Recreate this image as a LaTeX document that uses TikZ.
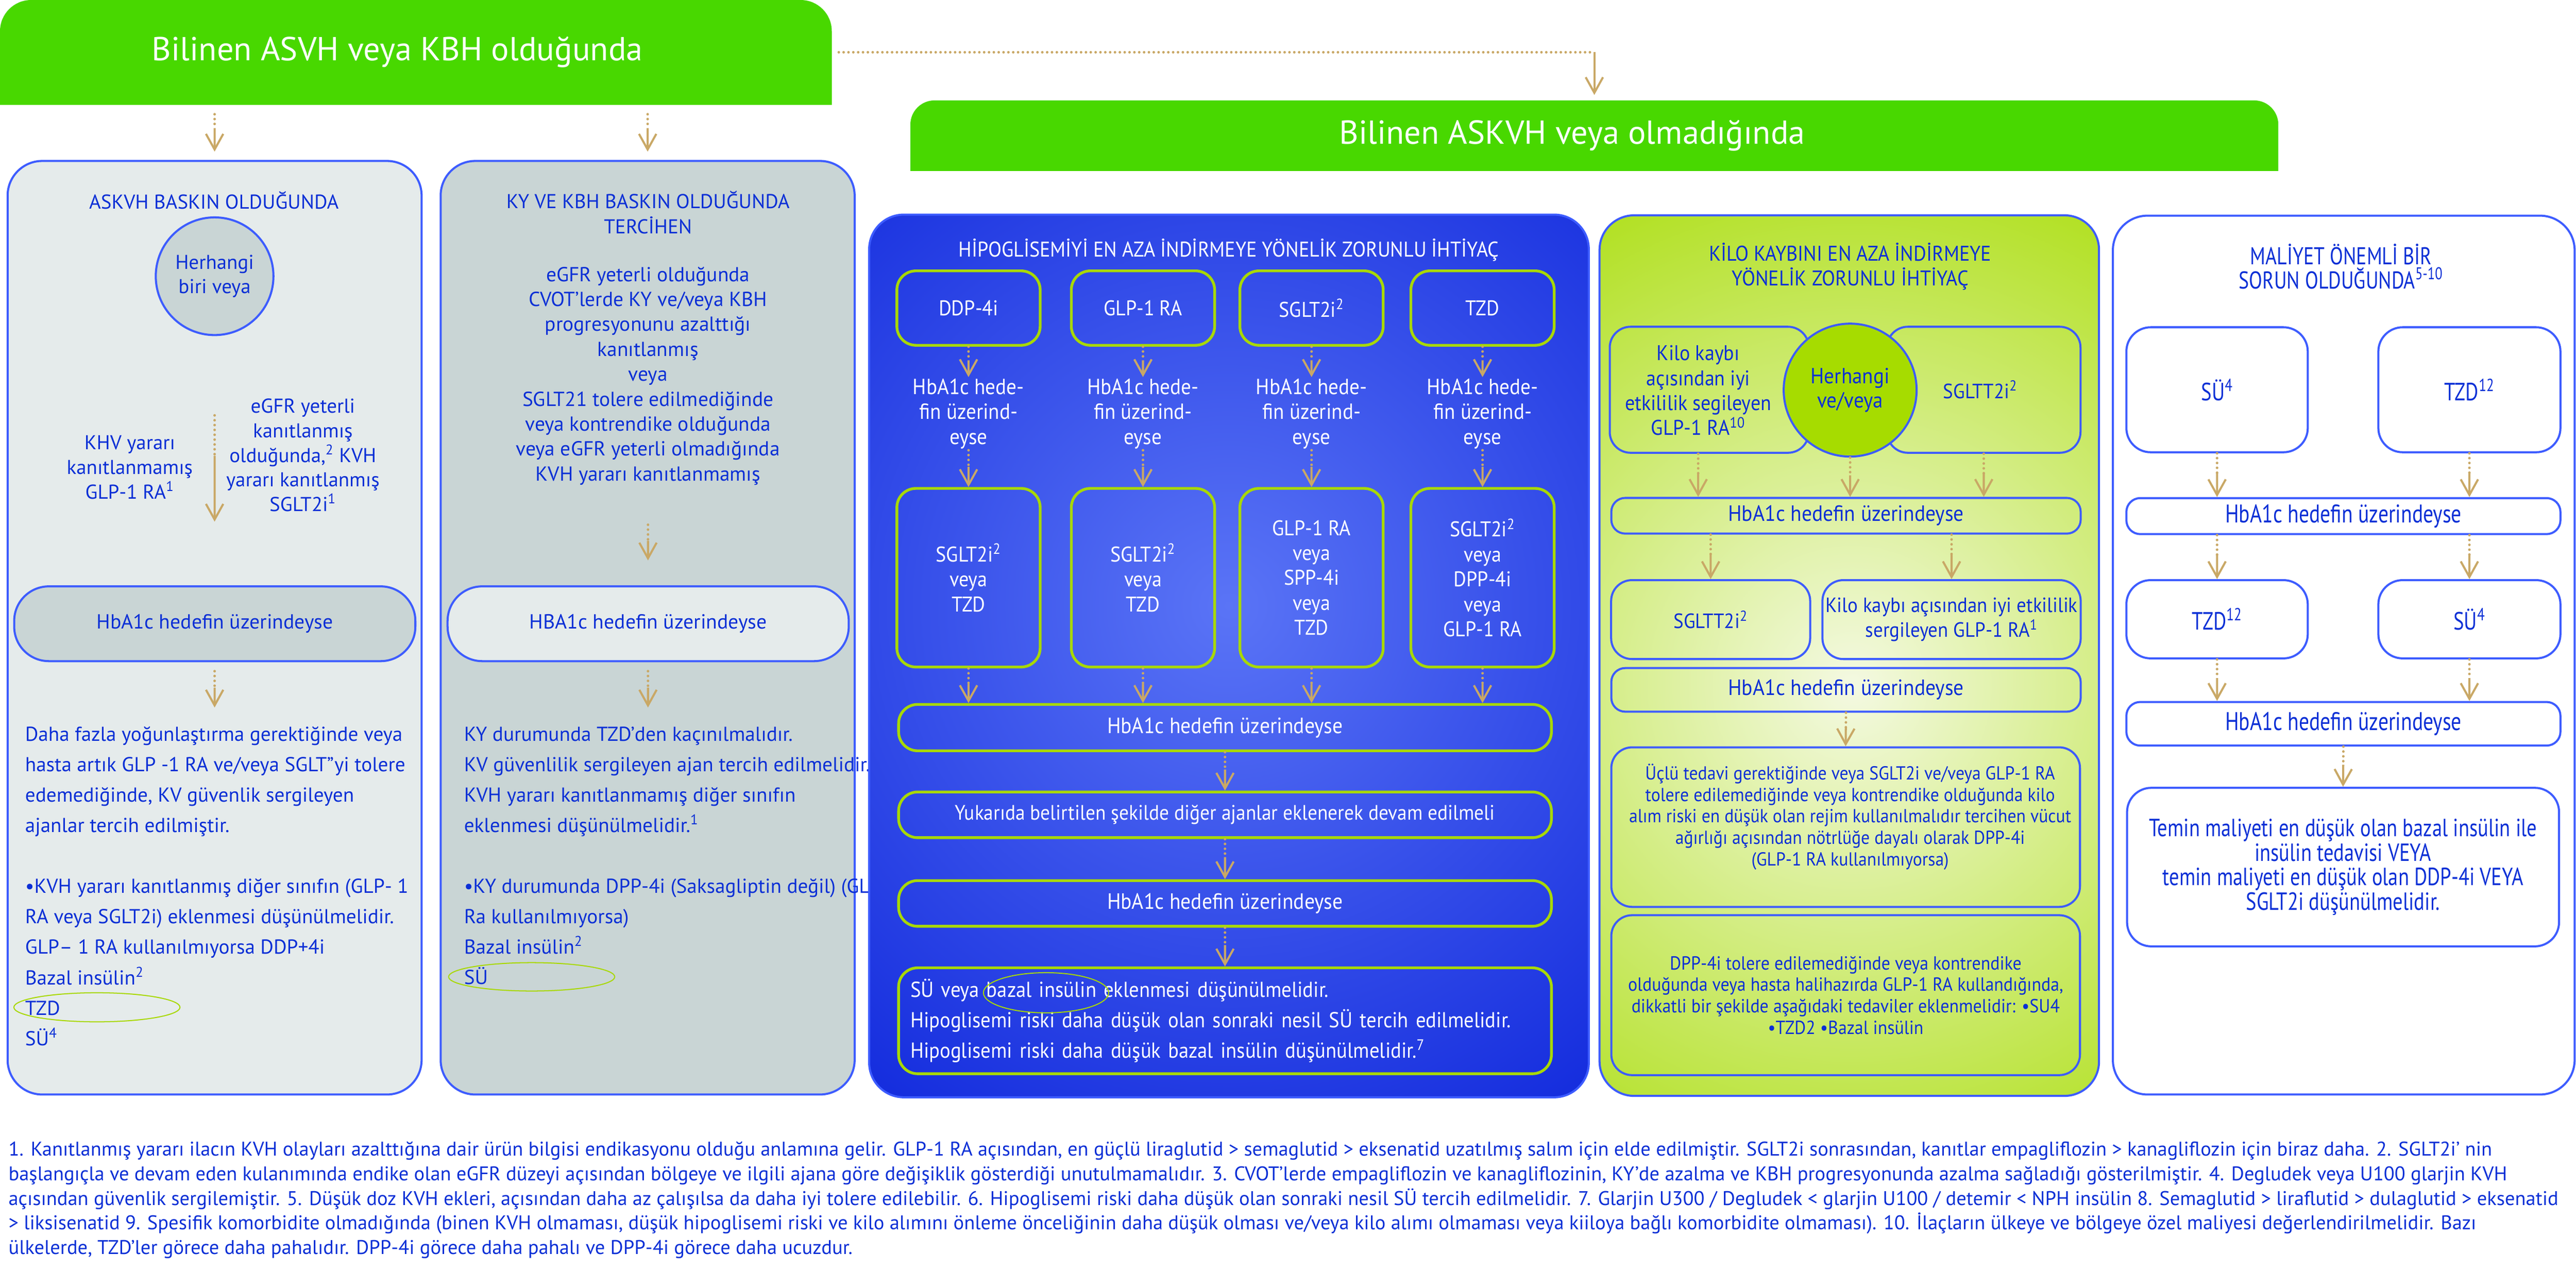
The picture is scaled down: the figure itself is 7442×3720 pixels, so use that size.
\documentclass[tikz,border=0pt]{standalone}
\usepackage{fontspec}
\setmainfont{PT Sans}
\newfontfamily\cnd[FakeStretch=0.92]{PT Sans}
\newfontfamily\cnw[FakeStretch=0.8]{PT Sans}
\usetikzlibrary{arrows.meta,calc}

\definecolor{hgreen}{HTML}{48D800}
\definecolor{bord}{HTML}{3D5CFF}
\definecolor{btext}{HTML}{0B2FD6}
\definecolor{gfa}{HTML}{E5EBEB}
\definecolor{gfb}{HTML}{C9D5D5}
\definecolor{tan}{HTML}{C9A866}
\definecolor{lime}{HTML}{A8D800}
\definecolor{kgreen}{HTML}{A6DC00}
\definecolor{bluee}{HTML}{0A22DA}
\definecolor{bluec}{HTML}{5A74F6}
\definecolor{gcen}{HTML}{F4F9E2}

% dotted start, solid end with tip
\newcommand{\conn}[3][0.45]{%
  \draw[dots] (#2) -- ($(#2)!#1!(#3)$);
  \draw[arr] ($(#2)!#1!(#3)$) -- (#3);}

\begin{document}
\begin{tikzpicture}[x=0.1mm,y=-0.1mm]
	\tikzstyle{every node}=[inner sep=0pt,align=center]
	\tikzstyle{pan}=[draw=bord,line width=0.6mm,rounded corners=10mm]
	\tikzstyle{hdr}=[text=white,font=\fontsize{27.3}{32}\selectfont]
	\tikzstyle{gbox}=[draw=bord,line width=0.6mm,rounded corners=10mm,text=btext,font=\fontsize{16.8}{20}\selectfont]
	\tikzstyle{lbox}=[draw=lime,line width=0.8mm,rounded corners=5.5mm,text=white,font=\cnd\fontsize{17.5}{20.5}\selectfont]
	\tikzstyle{kbox}=[draw=bord,line width=0.6mm,rounded corners=6mm,text=btext,font=\cnd\fontsize{17}{20.5}\selectfont]
	\tikzstyle{wbox}=[draw=bord,line width=0.6mm,fill=white,rounded corners=7mm,text=btext,font=\cnw\fontsize{20.5}{20}\selectfont]
	\tikzstyle{btxt}=[text=btext,font=\fontsize{16.6}{25}\selectfont]
	\tikzstyle{stxt}=[text=btext,font=\fontsize{16.5}{20.2}\selectfont]
	\tikzstyle{wtxt}=[text=white,font=\cnd\fontsize{18}{20.5}\selectfont]
	\tikzstyle{ktxt}=[text=btext,font=\cnd\fontsize{17.5}{20.5}\selectfont]
	\tikzstyle{dots}=[draw=tan,line width=0.75mm,line cap=round,dash pattern=on 0mm off 1.4mm]
	\tikzstyle{arr}=[draw=tan,line width=0.6mm,-{Straight Barb[length=4.5mm,width=5mm]}]
	\tikzstyle{oval}=[draw=lime,line width=0.3mm]

	\useasboundingbox (0,0) rectangle (7442,3720);

	% headers
	\fill[hgreen] (0,303) [rounded corners=9mm] -- (0,0) -- (2403,0) [sharp corners] -- (2403,303) -- cycle;
	\node[hdr,minimum width=240.3mm,minimum height=30.3mm] (h1) at (1201,151) {Bilinen ASVH veya KBH olduğunda\hspace*{10.6mm}};
	\fill[hgreen] (2630,494) [rounded corners=7mm] -- (2630,290) -- (6582,290) [sharp corners] -- (6582,494) -- cycle;
	\node[hdr,minimum width=395.2mm,minimum height=20.4mm] (h2) at (4606,392) {Bilinen ASKVH veya olmadığında\hspace*{12.8mm}};
	\coordinate (h12) at (h1.east -| h2.north);
	\draw[dots] ([xshift=2mm]h1.east) -- (h12);
	\draw[arr] (h12) -- ([yshift=1.5mm]h2.north);

	% panel 1
	\node[pan,fill=gfa,minimum width=119.6mm,minimum height=269.7mm] (p1) at (620,1813.5) {};
	\coordinate (h1a) at (620,330); \coordinate (h1b) at (620,438);
	\conn[0.37]{h1a}{h1b}
	\node[text=btext,font=\fontsize{16.5}{20}\selectfont] (p1t) at (618,578) {ASKVH BASKIN OLDUĞUNDA};
	\node[circle,draw=bord,line width=0.6mm,fill=gfb,minimum size=34mm,stxt] (c1) at (620,798) {Herhangi\\biri veya};
	\node[stxt] (p1l) at (375,1350) {KHV yararı\\kanıtlanmamış\\GLP-1 RA\textsuperscript{1}};
	\node[stxt] (p1r) at (875,1315) {eGFR yeterli\\kanıtlanmış\\olduğunda,\textsuperscript{2} KVH\\yararı kanıtlanmış\\SGLT2i\textsuperscript{1}};
	\coordinate (p1a) at (620,1200); \coordinate (p1b) at (620,1507);
	\conn[0.38]{p1a}{p1b}
	\node[gbox,fill=gfb,minimum width=115.9mm,minimum height=21.6mm] (b1) at (620.5,1802) {HbA1c hedefin üzerindeyse};
	\coordinate (p1c) at (620,1939); \coordinate (p1d) at (620,2044);
	\conn{p1c}{p1d}
	\node[btxt,anchor=west,align=left] (p1x) at (72,2560) {Daha fazla yoğunlaştırma gerektiğinde  veya\\hasta artık GLP -1 RA ve/veya SGLT”yi  tolere\\edemediğinde, KV güvenlik  sergileyen\\ajanlar tercih edilmiştir.\\[8.8mm]•KVH yararı kanıtlanmış diğer sınıfın  (GLP- 1\\RA veya SGLT2i) eklenmesi  düşünülmelidir.\\GLP– 1 RA kullanılmıyorsa DDP+4i\\Bazal insülin\textsuperscript{2}\\TZD\\SÜ\textsuperscript{4}};
	\draw[oval] (280,2910) ellipse (24mm and 4.2mm);

	% panel 2
	\node[pan,fill=gfb,minimum width=119.6mm,minimum height=269.7mm] (p2) at (1871,1813.5) {};
	\coordinate (h1c) at (1871,330); \coordinate (h1d) at (1871,438);
	\conn[0.37]{h1c}{h1d}
	\node[text=btext,font=\fontsize{16.5}{20.8}\selectfont] (p2t) at (1872,614) {KY VE KBH BASKIN OLDUĞUNDA\\TERCİHEN};
	\node[text=btext,font=\fontsize{16.7}{20.5}\selectfont] (p2m) at (1872,1086) {eGFR yeterli olduğunda\\CVOT’lerde KY ve/veya KBH\\progresyonunu azalttığı\\kanıtlanmış\\veya\\SGLT21 tolere edilmediğinde\\veya kontrendike olduğunda\\veya eGFR yeterli  olmadığında\\KVH yararı  kanıtlanmamış};
	\coordinate (p2a) at (1872,1516); \coordinate (p2b) at (1872,1619);
	\conn{p2a}{p2b}
	\node[gbox,fill=gfa,minimum width=115.9mm,minimum height=21.6mm] (b2) at (1872.5,1802) {HBA1c hedefin üzerindeyse};
	\coordinate (p2c) at (1872,1939); \coordinate (p2d) at (1872,2044);
	\conn{p2c}{p2d}
	\node[btxt,anchor=west,align=left] (p2x) at (1340,2472) {KY durumunda TZD’den kaçınılmalıdır.\\KV güvenlilik sergileyen ajan tercih  edilmelidir.\\KVH yararı kanıtlanmamış diğer sınıfın\\eklenmesi düşünülmelidir.\textsuperscript{1}\\[8.8mm]•KY durumunda DPP-4i (Saksagliptin değil) (GLP- 1\\Ra kullanılmıyorsa)\\Bazal insülin\textsuperscript{2}\\SÜ};
	\draw[oval] (1536,2822) ellipse (24mm and 4.1mm);

	% blue panel
	\begin{scope}
		\clip[rounded corners=10mm] (2511,620) rectangle (4590,3170);
		\fill[bluee] (2511,620) rectangle (4590,3170);
		\shade[inner color=bluec,outer color=bluee] (3550,1750) circle (200mm);
	\end{scope}
	\draw[pan] (2511,620) rectangle (4590,3170);
	\node[wtxt,font=\cnd\fontsize{17.5}{20}\selectfont] (bt) at (3550,722) {HİPOGLİSEMİYİ EN AZA İNDİRMEYE YÖNELİK ZORUNLU İHTİYAÇ};
	\foreach \i/\x/\a/\b in {1/2798/DDP-4i/SGLT2i\textsuperscript{2}\\veya\\TZD,
	                         2/3302/GLP-1 RA/SGLT2i\textsuperscript{2}\\veya\\TZD,
	                         3/3789/SGLT2i\textsuperscript{2}/GLP-1 RA\\veya\\SPP-4i\\veya\\TZD,
	                         4/4283/TZD/SGLT2i\textsuperscript{2}\\veya\\DPP-4i\\veya\\GLP-1 RA}{
		\node[lbox,minimum width=41.4mm,minimum height=21.5mm] (d\i) at (\x,890) {\a};
		\node[wtxt,minimum height=21mm] (q\i) at (\x,1195) {HbA1c hede-\\fin üzerind-\\eyse};
		\node[lbox,minimum width=41.4mm,minimum height=51.6mm] (m\i) at (\x,1669) {\b};
		\conn{d\i.south}{q\i.north}
		\conn{q\i.south}{m\i.north}
	}
	\node[lbox,minimum width=188.6mm,minimum height=13.4mm,font=\cnd\fontsize{18.2}{20}\selectfont] (g1) at (3539,2102) {HbA1c hedefin üzerindeyse};
	\foreach \i in {1,...,4}{
		\conn{m\i.south}{m\i.south |- g1.north}
	}
	\node[lbox,minimum width=188.6mm,minimum height=13.2mm,font=\cnd\fontsize{17.2}{20}\selectfont] (g2) at (3539,2354) {Yukarıda belirtilen şekilde diğer ajanlar eklenerek devam edilmeli};
	\node[lbox,minimum width=188.6mm,minimum height=13.2mm,font=\cnd\fontsize{18.2}{20}\selectfont] (g3) at (3539,2610) {HbA1c hedefin üzerindeyse};
	\node[lbox,minimum width=188.6mm,minimum height=30.6mm,text width=181.8mm,inner xsep=3.4mm,align=left,font=\cnd\fontsize{17.8}{24.9}\selectfont] (g4) at (3539,2949) {SÜ veya bazal insülin eklenmesi düşünülmelidir.\\Hipoglisemi riski daha düşük olan sonraki nesil SÜ tercih edilmelidir.\\Hipoglisemi riski daha düşük bazal insülin düşünülmelidir.\textsuperscript{7}};
	\conn{g1.south}{g2.north}
	\conn{g2.south}{g3.north}
	\conn{g3.south}{g4.north}
	\draw[oval] (3022,2868) ellipse (18.1mm and 5.8mm);

	% green panel
	\begin{scope}
		\clip[rounded corners=10mm] (4621,622) rectangle (6064,3166);
		\fill[kgreen] (4621,622) rectangle (6064,3166);
		\shade[inner color=gcen,outer color=kgreen] (5350,1980) circle (180mm);
	\end{scope}
	\draw[pan] (4621,622) rectangle (6064,3166);
	\node[ktxt,font=\cnd\fontsize{17.5}{20.2}\selectfont] (kt0) at (5345,770) {KİLO KAYBINI EN AZA İNDİRMEYE\\YÖNELİK ZORUNLU İHTİYAÇ};
	\node[kbox,minimum width=57.5mm,minimum height=36.4mm] (kl) at (4938,1126) {};
	\node[ktxt] (klt) at (4906,1128) {Kilo kaybı\\açısından iyi\\etkililik segileyen\\GLP-1 RA\textsuperscript{10}};
	\node[kbox,minimum width=55.9mm,minimum height=36.4mm] (kr) at (5731,1126) {\hspace*{-2mm}SGLTT2i\textsuperscript{2}};
	\node[circle,draw=bord,line width=0.6mm,fill=kgreen,minimum size=38.4mm,ktxt,font=\cnd\fontsize{18}{20.2}\selectfont] (kc) at (5345,1127) {Herhangi\\ve/veya};
	\node[kbox,minimum width=135.6mm,minimum height=10.3mm,rounded corners=4mm,font=\cnd\fontsize{18.2}{20}\selectfont] (kh1) at (5333,1490) {HbA1c hedefin üzerindeyse};
	\conn{kl.south -| klt.south}{klt.south |- kh1.north}
	\conn{kc.south}{kc.south |- kh1.north}
	\conn{kr.south}{kr.south |- kh1.north}
	\node[kbox,minimum width=57.5mm,minimum height=22.8mm] (ks) at (4942,1790) {SGLTT2i\textsuperscript{2}};
	\node[kbox,minimum width=74.6mm,minimum height=22.8mm] (kg) at (5638,1790) {Kilo kaybı açısından iyi  etkililik\\sergileyen GLP-1 RA\textsuperscript{1}};
	\conn{ks.north |- kh1.south}{ks.north}
	\conn{kg.north |- kh1.south}{kg.north}
	\node[kbox,minimum width=135.6mm,minimum height=12.6mm,rounded corners=4mm,font=\cnd\fontsize{18.2}{20}\selectfont] (kh2) at (5333,1993) {HbA1c hedefin üzerindeyse};
	\node[kbox,minimum width=135.4mm,minimum height=46.1mm] (kt) at (5332,2389.5) {};
	\node[text=btext,font=\cnd\fontsize{15.5}{17.6}\selectfont] (ktx) at (5345,2360) {Üçlü tedavi gerektiğinde veya SGLT2i ve/veya GLP-1  RA\\tolere edilemediğinde veya kontrendike olduğunda kilo\\alım riski en düşük olan rejim kullanılmalıdır tercihen vücut\\ağırlığı açısından nötrlüğe dayalı olarak DPP-4i\\(GLP-1 RA kullanılmıyorsa)};
	\conn{kh2.south}{kt.north}
	\node[kbox,minimum width=135.4mm,minimum height=46.2mm,font=\cnd\fontsize{15.6}{17.6}\selectfont] (kd) at (5332,2875) {DPP-4i tolere edilemediğinde veya kontrendike\\olduğunda veya hasta halihazırda GLP-1 RA  kullandığında,\\dikkatli bir şekilde aşağıdaki tedaviler  eklenmelidir: •SU4\\•TZD2 •Bazal insülin};

	% white panel
	\node[pan,fill=white,minimum width=133.4mm,minimum height=253.9mm] (p5) at (6771,1892.5) {};
	\node[text=btext,font=\cnw\fontsize{20}{19.9}\selectfont] (wt0) at (6763,770) {MALİYET ÖNEMLİ BİR\\SORUN OLDUĞUNDA\textsuperscript{5-10}};
	\node[wbox,minimum width=52.4mm,minimum height=36.1mm] (ws1) at (6405,1126) {SÜ\textsuperscript{4}};
	\node[wbox,minimum width=52.6mm,minimum height=36.1mm] (wt1) at (7134,1126) {TZD\textsuperscript{12}};
	\node[wbox,minimum width=125.4mm,minimum height=10.4mm,rounded corners=4mm,font=\cnw\fontsize{21}{21}\selectfont] (wh1) at (6770,1491) {HbA1c hedefin üzerindeyse};
	\conn{ws1.south}{ws1.south |- wh1.north}
	\conn{wt1.south}{wt1.south |- wh1.north}
	\node[wbox,minimum width=52.4mm,minimum height=22.6mm] (wt2) at (6405,1789) {TZD\textsuperscript{12}};
	\node[wbox,minimum width=52.6mm,minimum height=22.6mm] (ws2) at (7134,1789) {SÜ\textsuperscript{4}};
	\conn{wt2.north |- wh1.south}{wt2.north}
	\conn{ws2.north |- wh1.south}{ws2.north}
	\node[wbox,minimum width=125.4mm,minimum height=12.6mm,rounded corners=4mm,font=\cnw\fontsize{21}{21}\selectfont] (wh2) at (6770,2091) {HbA1c hedefin üzerindeyse};
	\conn{wt2.south}{wt2.south |- wh2.north}
	\conn{ws2.south}{ws2.south |- wh2.north}
	\node[wbox,minimum width=124.8mm,minimum height=45.8mm,font=\cnw\fontsize{20.4}{20.2}\selectfont] (wb) at (6769,2505) {Temin maliyeti en düşük olan bazal insülin ile\\insülin tedavisi VEYA\\temin maliyeti en düşük olan DDP-4i VEYA\\SGLT2i düşünülmelidir.};
	\conn{wh2.south}{wb.north}

	% footnotes
	\node[anchor=west,align=left,text=btext,font=\fontsize{16.3}{20.2}\selectfont] (fn) at (24,3467) {1. Kanıtlanmış yararı ilacın KVH olayları azalttığına dair ürün bilgisi endikasyonu olduğu anlamına gelir. GLP-1 RA açısından, en güçlü liraglutid > semaglutid > eksenatid uzatılmış salım için elde edilmiştir. SGLT2i sonrasından, kanıtlar empagliflozin > kanagliflozin için biraz  daha. 2. SGLT2i' nin\\başlangıçla ve devam eden kulanımında endike olan eGFR düzeyi açısından bölgeye ve ilgili ajana göre değişiklik gösterdiği unutulmamalıdır. 3. CVOT'lerde empagliflozin ve kanagliflozinin, KY'de azalma ve KBH progresyonunda azalma sağladığı  gösterilmiştir. 4. Degludek veya U100 glarjin KVH\\açısından güvenlik sergilemiştir. 5. Düşük doz KVH ekleri, açısından daha az çalışılsa da daha iyi tolere edilebilir. 6. Hipoglisemi riski daha düşük olan sonraki nesil SÜ tercih edilmelidir. 7. Glarjin U300 / Degludek < glarjin  U100 / detemir < NPH insülin 8. Semaglutid > liraflutid > dulaglutid > eksenatid\\> liksisenatid 9. Spesifik komorbidite olmadığında (binen KVH olmaması, düşük hipoglisemi riski ve kilo alımını önleme önceliğinin daha düşük olması ve/veya kilo alımı olmaması veya kiiloya bağlı komorbidite olmaması). 10. İlaçların ülkeye ve bölgeye özel maliyesi değerlendirilmelidir. Bazı\\ülkelerde, TZD'ler görece daha pahalıdır. DPP-4i görece daha pahalı ve DPP-4i görece daha ucuzdur.};
\end{tikzpicture}
\end{document}
